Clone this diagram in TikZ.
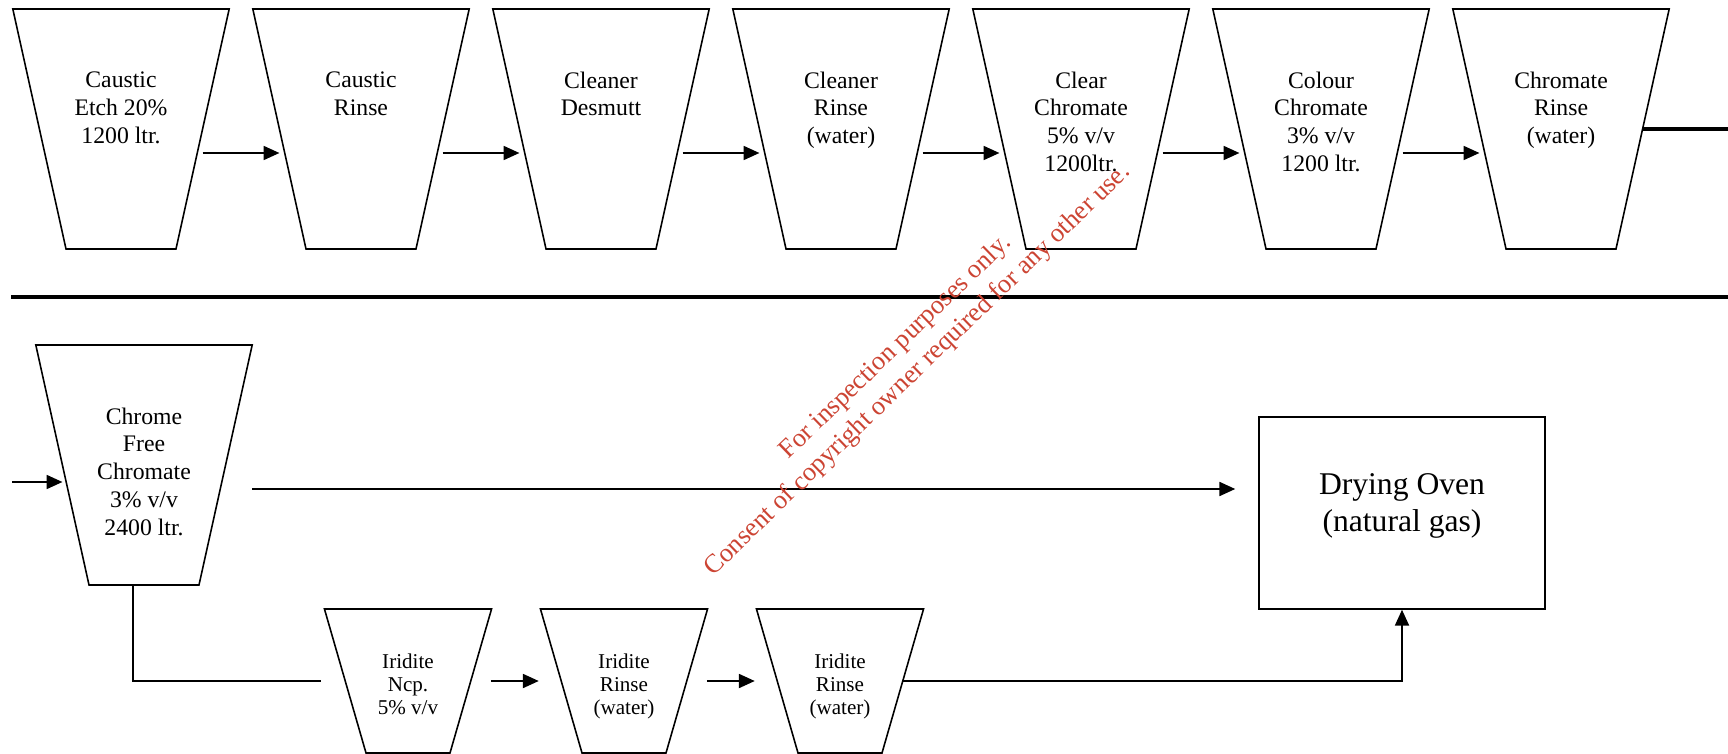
\documentclass[tikz,border=0pt]{standalone}
\usepackage{fontspec}
\setmainfont{Liberation Serif}
\usetikzlibrary{shapes.geometric,arrows.meta,positioning}
\definecolor{stamp}{RGB}{204,68,51}

\tikzset{
  tank/.style={trapezium, draw, shape border rotate=180, outer sep=0pt},
  bigtank/.style={tank, trapezium left angle=77.5, trapezium right angle=77.5,
    inner xsep=1.1cm, inner ysep=2.4cm},
  smalltank/.style={tank, trapezium left angle=73.9, trapezium right angle=73.9,
    inner xsep=0.84cm, inner ysep=1.44cm},
  rule/.style={line width=1.8pt}
}

\begin{document}
\begin{tikzpicture}[x=0.02cm, y=-0.02cm, line width=0.9pt,
    >={Triangle[length=9pt,width=8pt]}]

      \useasboundingbox (0,0) rectangle (1728,754);

      \begin{scope}[every node/.style={bigtank}]
        \node (1) at (121,129)  {};
        \node (2) at (361,129)  {};
        \node (3) at (601,129)  {};
        \node (4) at (841,129)  {};
        \node (5) at (1081,129) {};
        \node (6) at (1321,129) {};
        \node (7) at (1561,129) {};
        \node (8) at (144,465)  {};
      \end{scope}

      \begin{scope}[every node/.style={smalltank}]
        \node (9)  at (408,681) {};
        \node (10) at (624,681) {};
        \node (11) at (840,681) {};
      \end{scope}

      \node[draw, minimum width=5.72cm, minimum height=3.84cm] (oven) at (1402,513) {};
      \node[align=center, font=\fontsize{18}{21}\selectfont] (ovenlbl)
        at ([yshift=0.14cm]oven.center) {Drying Oven\\(natural gas)};

      % tank labels
      \begin{scope}[every node/.style={align=center, anchor=north, inner sep=0pt,
          font=\fontsize{13.5}{15.8}\selectfont}]
        \node (l1) at ([yshift=-1.24cm]1.north) {Caustic\\Etch 20\%\\1200 ltr.};
        \node (l2) at ([yshift=-1.24cm]2.north) {Caustic\\Rinse};
        \node (l3) at ([yshift=-1.24cm]3.north) {Cleaner\\Desmutt};
        \node (l4) at ([yshift=-1.24cm]4.north) {Cleaner\\Rinse\\(water)};
        \node (l5) at ([yshift=-1.24cm]5.north) {Clear\\Chromate\\5\% v/v\\1200ltr.};
        \node (l6) at ([yshift=-1.24cm]6.north) {Colour\\Chromate\\3\% v/v\\1200 ltr.};
        \node (l7) at ([yshift=-1.24cm]7.north) {Chromate\\Rinse\\(water)};
        \node (l8) at ([yshift=-1.24cm]8.north) {Chrome\\Free\\Chromate\\3\% v/v\\2400 ltr.};
      \end{scope}

      \begin{scope}[every node/.style={align=center, anchor=north, inner sep=0pt,
          font=\fontsize{12}{13.1}\selectfont}]
        \node (l9)  at ([yshift=-0.88cm]9.north)  {Iridite\\Ncp.\\5\% v/v};
        \node (l10) at ([yshift=-0.88cm]10.north) {Iridite\\Rinse\\(water)};
        \node (l11) at ([yshift=-0.88cm]11.north) {Iridite\\Rinse\\(water)};
      \end{scope}

      % top line
      \draw[->] ([yshift=-0.48cm]1.east) -- ([yshift=-0.48cm]2.west);
      \draw[->] ([yshift=-0.48cm]2.east) -- ([yshift=-0.48cm]3.west);
      \draw[->] ([yshift=-0.48cm]3.east) -- ([yshift=-0.48cm]4.west);
      \draw[->] ([yshift=-0.48cm]4.east) -- ([yshift=-0.48cm]5.west);
      \draw[->] ([yshift=-0.48cm]5.east) -- ([yshift=-0.48cm]6.west);
      \draw[->] ([yshift=-0.48cm]6.east) -- ([yshift=-0.48cm]7.west);

      \coordinate (out) at (1728,129);
      \coordinate (in)  at (12,482);
      \draw[rule] (7.east) -- (out);
      \draw[rule] (11,297) -- (1728,297);

      % bottom line
      \draw[->] (in) -- ([yshift=-0.34cm]8.west);
      \draw[->, shorten <=0.53cm, shorten >=0.46cm]
        ([yshift=-0.48cm]8.east) -- ([yshift=-0.48cm]8.east -| oven.west);
      \draw[shorten >=0.48cm] ([xshift=-0.22cm]8.south) |- (9.west);
      \draw[->, shorten <=0.4cm, shorten >=0.45cm] (9) -- (10);
      \draw[->, shorten <=0.4cm, shorten >=0.45cm] (10) -- (11);
      \draw[->] (11.east) -| (oven.south);

      \node[rotate=44, text=stamp, align=center, inner sep=0pt,
        font=\fontsize{15}{18}\selectfont] (note) at (907,359)
        {For inspection purposes only.\\Consent of copyright owner required for any other use.};

    \end{tikzpicture}
\end{document}
